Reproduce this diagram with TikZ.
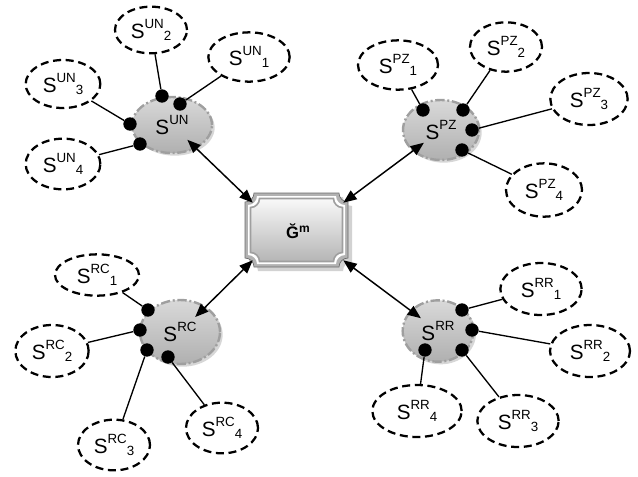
\documentclass[tikz,border=0pt]{standalone}
\usepackage{fontspec}
\setmainfont{Liberation Sans}
\usetikzlibrary{shapes.geometric,arrows.meta,shadows}
\newcommand\SUB[2]{S\raisebox{7.5pt}{\fontsize{10}{10}\selectfont #1}\raisebox{-1.5pt}{\fontsize{10}{10}\selectfont #2}}
\newcommand\SUP[1]{S\raisebox{7.5pt}{\fontsize{10}{10}\selectfont #1}}
\newcommand\plaquepath[5]{(#1+#5,#2) -- (#3-#5,#2) arc[start angle=180,end angle=90,radius=#5] -- (#3,#4-#5) arc[start angle=270,end angle=180,radius=#5] -- (#1+#5,#4) arc[start angle=360,end angle=270,radius=#5] -- (#1,#2+#5) arc[start angle=90,end angle=0,radius=#5] -- cycle}
\tikzset{
  ell/.style={ellipse, draw=black, fill=white, line width=1.7pt, dash pattern=on 6pt off 3.5pt,
    minimum width=57pt, minimum height=37pt, inner sep=0pt, font=\fontsize{15.5}{17}\selectfont},
  cloud/.style={ellipse, draw=gray!75, line width=1.8pt, dash pattern=on 7pt off 2pt on 1.5pt off 2pt,
    top color=gray!30, middle color=gray!4, bottom color=gray!62,
    drop shadow={shadow xshift=2pt, shadow yshift=-2pt, fill=gray!45, opacity=0.7},
    inner sep=0pt, font=\fontsize{15.5}{17}\selectfont},
  dotn/.style={circle, fill=black, minimum size=10pt, inner sep=0pt},
  link/.style={line width=1pt, black},
  biarrow/.style={line width=1.1pt, {Triangle[length=10pt,width=8pt]}-{Triangle[length=10pt,width=8pt]}, shorten >=16pt}
}
\begin{document}
\begin{tikzpicture}[x=0.75pt,y=-0.75pt]
\useasboundingbox (0,0) rectangle (638,476);
% central plaque
\fill[gray!35] \plaquepath{249}{197}{352}{271}{9};
\filldraw[fill=gray!60, draw=gray!85!black, line width=0.5pt] \plaquepath{245}{193}{348}{267}{9};
\fill[white] \plaquepath{248}{196}{345}{264}{9};
\shade[top color=gray!5, bottom color=gray!58, draw=gray!75, line width=1.2pt] \plaquepath{250.5}{198.5}{342.5}{261.5}{9};
\node[rectangle, minimum width=67.5pt, minimum height=42.75pt, inner sep=0pt,
  font=\fontsize{12.5}{14}\selectfont\bfseries] (gm) at (298,231.5)
  {Ğ\raisebox{4.8pt}{\fontsize{9}{10}\selectfont m}};

% clouds
\node[cloud, minimum width=60pt, minimum height=42pt] (un) at (172,125) {\SUP{UN}};
\node[cloud, minimum width=57pt, minimum height=45pt] (pz) at (441,130) {\SUP{PZ}};
\node[cloud, minimum width=60pt, minimum height=48pt] (rc) at (180,332) {\SUP{RC}};
\node[cloud, minimum width=53pt, minimum height=46pt] (rr) at (438,331) {\SUP{RR}};

% satellite ellipses
\node[ell, minimum width=61pt, minimum height=37pt] (un1) at (249,57) {\SUB{UN}{1}};
\node[ell, minimum width=54pt, minimum height=35pt] (un2) at (151,30) {\SUB{UN}{2}};
\node[ell, minimum width=56pt, minimum height=36pt] (un3) at (63,84) {\SUB{UN}{3}};
\node[ell, minimum width=56pt, minimum height=38pt] (un4) at (63,164) {\SUB{UN}{4}};

\node[ell, minimum width=60pt, minimum height=37pt] (pz1) at (398,65) {\SUB{PZ}{1}};
\node[ell, minimum width=54pt, minimum height=37pt] (pz2) at (506,47) {\SUB{PZ}{2}};
\node[ell, minimum width=58pt, minimum height=39pt] (pz3) at (589,99) {\SUB{PZ}{3}};
\node[ell, minimum width=57pt, minimum height=40pt] (pz4) at (544,190) {\SUB{PZ}{4}};

\node[ell, minimum width=63pt, minimum height=31pt] (rc1) at (97,275) {\SUB{RC}{1}};
\node[ell, minimum width=55pt, minimum height=39pt] (rc2) at (52,351) {\SUB{RC}{2}};
\node[ell, minimum width=54pt, minimum height=38pt] (rc3) at (114,445) {\SUB{RC}{3}};
\node[ell, minimum width=54pt, minimum height=38pt] (rc4) at (222,428) {\SUB{RC}{4}};

\node[ell, minimum width=61pt, minimum height=39pt] (rr1) at (541,289) {\SUB{RR}{1}};
\node[ell, minimum width=60pt, minimum height=39pt] (rr2) at (590,351) {\SUB{RR}{2}};
\node[ell, minimum width=61pt, minimum height=39pt] (rr3) at (518,421) {\SUB{RR}{3}};
\node[ell, minimum width=67pt, minimum height=39pt] (rr4) at (417,411) {\SUB{RR}{4}};

% connection dots
\node[dotn] (un2d) at (162,96) {};
\node[dotn] (un1d) at (180,104) {};
\node[dotn] (un3d) at (130,124) {};
\node[dotn] (un4d) at (140,144) {};

\node[dotn] (pz1d) at (423,110) {};
\node[dotn] (pz2d) at (463,110) {};
\node[dotn] (pz3d) at (472,130) {};
\node[dotn] (pz4d) at (462,150) {};

\node[dotn] (rc1d) at (148,310) {};
\node[dotn] (rc2d) at (140,330) {};
\node[dotn] (rc3d) at (147,350) {};
\node[dotn] (rc4d) at (168,357) {};

\node[dotn] (rr1d) at (462,310) {};
\node[dotn] (rr2d) at (472,330) {};
\node[dotn] (rr3d) at (462,350) {};
\node[dotn] (rr4d) at (425,350) {};

% links
\foreach \g in {un,pz,rc,rr}{
  \foreach \i in {1,2,3,4}{
    \draw[link] (\g\i d) -- (\g\i);
  }
}

% arrows to the central node
\draw[biarrow] (gm.north west) -- (un.center);
\draw[biarrow] (gm.north east) -- (pz.center);
\draw[biarrow] (gm.south west) -- (rc.center);
\draw[biarrow] (gm.south east) -- (rr.center);
\end{tikzpicture}
\end{document}
